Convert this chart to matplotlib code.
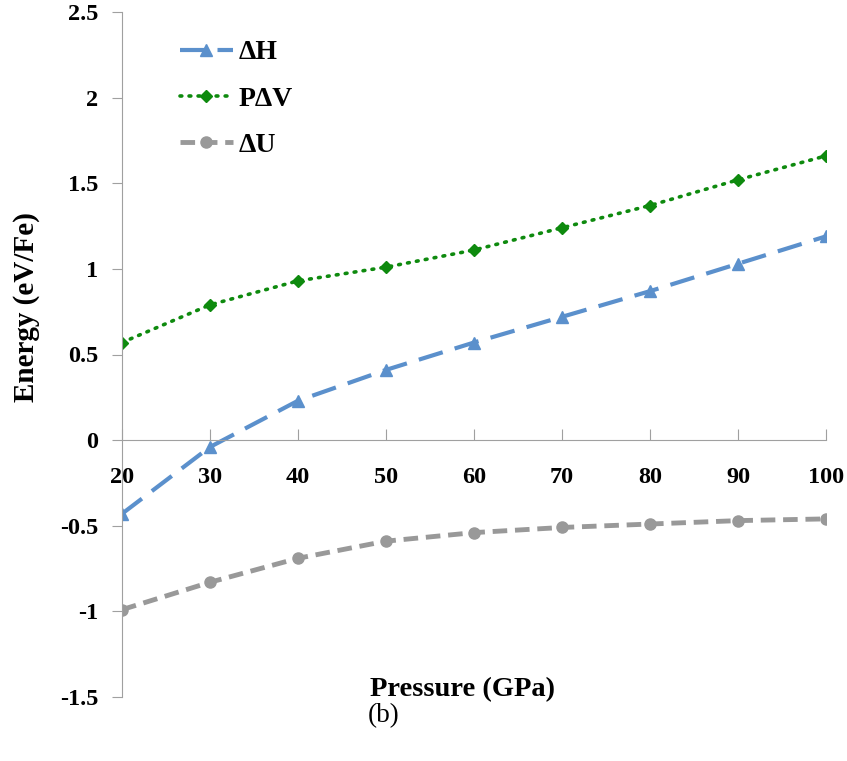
import numpy as np
import matplotlib.pyplot as plt
from matplotlib.ticker import FuncFormatter

plt.rcParams['font.family'] = ['Liberation Serif', 'DejaVu Serif']
plt.rcParams['axes.unicode_minus'] = False

pressure = [20, 30, 40, 50, 60, 70, 80, 90, 100]
dH = [-0.43, -0.04, 0.23, 0.41, 0.57, 0.72, 0.87, 1.03, 1.19]
pdV = [0.57, 0.79, 0.93, 1.01, 1.11, 1.24, 1.37, 1.52, 1.66]
dU = [-0.99, -0.83, -0.69, -0.59, -0.54, -0.51, -0.49, -0.47, -0.46]

fig = plt.figure(figsize=(8.47, 7.61), dpi=100)
ax = fig.add_axes([122/847, (761-697)/761, (826-122)/847, (697-12)/761])

ax.plot(pressure, dH, color='#5b90cc', lw=3, dashes=(6, 3), marker='^', ms=8, label='ΔH')
ax.plot(pressure, pdV, color='#0e8a0e', lw=2.6, linestyle=(0, (0.5, 2.0)), dash_capstyle='round',
        marker='D', ms=6, label='PΔV')
ax.plot(pressure, dU, color='#999999', lw=3.5, dashes=(3, 1.6), marker='o', ms=8, label='ΔU')

ax.set_xlim(20, 100)
ax.set_ylim(-1.5, 2.5)
ax.set_xticks(np.arange(20, 101, 10))
ax.set_yticks(np.arange(-1.5, 2.51, 0.5))
ax.yaxis.set_major_formatter(FuncFormatter(lambda v, p: '%g' % v))

for s in ['top', 'right']:
    ax.spines[s].set_visible(False)
ax.spines['bottom'].set_position(('data', 0))
ax.spines['bottom'].set_color('#a0a0a0')
ax.spines['left'].set_color('#a0a0a0')

ax.tick_params(axis='x', direction='in', length=8, color='#a0a0a0', pad=19, labelsize=17.5)
ax.tick_params(axis='y', direction='out', length=7, color='#a0a0a0', pad=10, labelsize=17.5)
for lab in ax.get_xticklabels() + ax.get_yticklabels():
    lab.set_fontweight('bold')

fig.text(462/847, 1 - 690/761, 'Pressure (GPa)', ha='center', va='center', fontsize=20.5, fontweight='bold')
fig.text(26/847, 1 - 307/761, 'Energy (eV/Fe)', ha='center', va='center', rotation=90,
         fontsize=21, fontweight='bold')
fig.text(384/847, 1 - 716/761, '(b)', ha='center', va='center', fontsize=19.5)

leg = ax.legend(loc='upper left', bbox_to_anchor=(155/847, 1 - 15/761), bbox_transform=fig.transFigure,
                frameon=False, handlelength=1.9, labelspacing=0.75, handletextpad=0.2,
                prop={'weight': 'bold', 'size': 20})

fig.savefig('out.png', dpi=100)
